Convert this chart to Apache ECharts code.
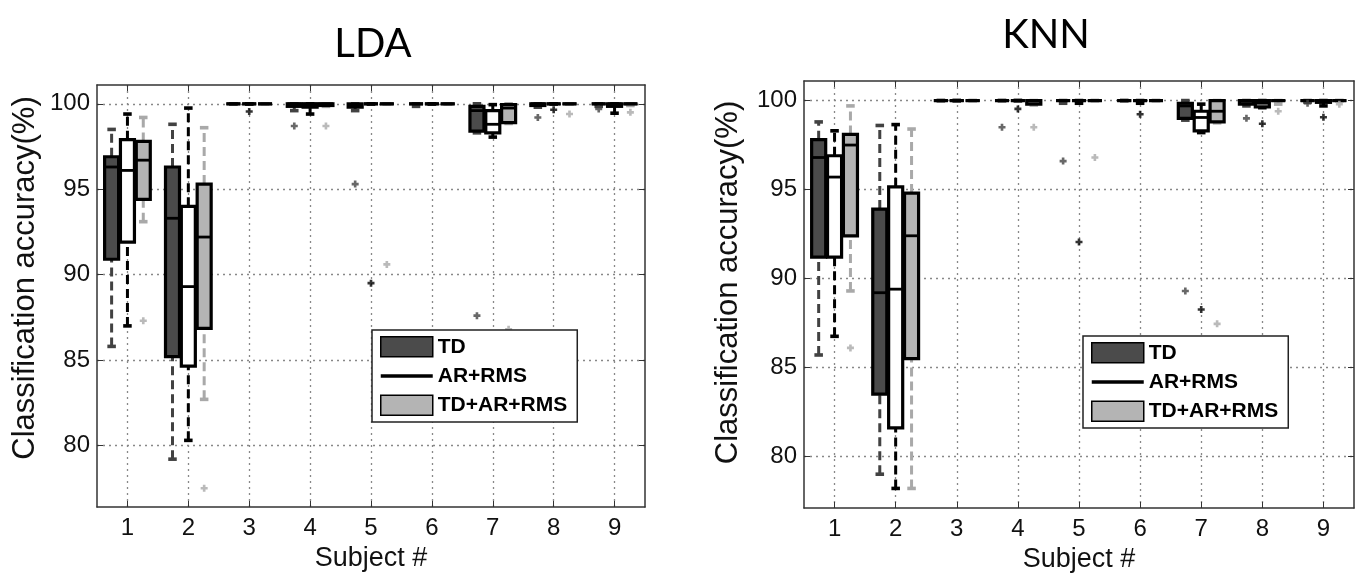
<!DOCTYPE html>
<html>
<head>
<meta charset="utf-8">
<script src="https://cdn.jsdelivr.net/npm/echarts@6/dist/echarts.min.js"></script>
<style>
  html, body { margin: 0; background: #fff; }
  #chart { width: 1361px; height: 580px; }
</style>
</head>
<body>
<div id="chart"></div>
<script>
const subjects = [1, 2, 3, 4, 5, 6, 7, 8, 9];
const yTicks = [80, 85, 90, 95, 100];
const seriesNames = ['TD', 'AR+RMS', 'TD+AR+RMS'];

// [min, q1, median, q3, max] per subject
const ldaTD = [
  [85.8, 90.9, 96.3, 96.9, 98.5], [79.2, 85.2, 93.3, 96.3, 98.8], [100, 100, 100, 100, 100],
  [99.6, 99.85, 100, 100, 100], [99.6, 99.8, 99.95, 100, 100], [99.85, 100, 100, 100, 100],
  [98.3, 98.4, 99.6, 99.85, 100], [99.8, 99.9, 100, 100, 100], [99.85, 100, 100, 100, 100]
];
const ldaAR = [
  [87.0, 91.9, 96.1, 97.9, 99.4], [80.3, 84.65, 89.3, 94.0, 99.75], [100, 100, 100, 100, 100],
  [99.4, 99.8, 100, 100, 100], [100, 100, 100, 100, 100], [100, 100, 100, 100, 100],
  [98.05, 98.3, 98.8, 99.6, 99.95], [100, 100, 100, 100, 100], [99.45, 99.85, 100, 100, 100]
];
const ldaAll = [
  [93.1, 94.4, 96.7, 97.8, 99.2], [82.7, 86.85, 92.2, 95.3, 98.6], [100, 100, 100, 100, 100],
  [99.85, 99.9, 100, 100, 100], [100, 100, 100, 100, 100], [100, 100, 100, 100, 100],
  [98.85, 98.9, 99.75, 99.95, 100], [100, 100, 100, 100, 100], [99.9, 100, 100, 100, 100]
];
// outliers [subject, value]
const ldaTDOut = [[4, 98.7], [5, 95.3], [7, 87.6], [8, 99.2], [9, 99.7]];
const ldaAROut = [[3, 99.55], [5, 89.5], [8, 99.65]];
const ldaAllOut = [[1, 87.3], [2, 77.5], [4, 98.7], [5, 90.6], [7, 86.8], [8, 99.4], [9, 99.5]];

const knnTD = [
  [85.7, 91.2, 96.8, 97.8, 98.8], [79.0, 83.5, 89.2, 93.9, 98.6], [100, 100, 100, 100, 100],
  [100, 100, 100, 100, 100], [99.85, 100, 100, 100, 100], [100, 100, 100, 100, 100],
  [98.9, 99.0, 99.7, 99.85, 100], [99.7, 99.8, 100, 100, 100], [99.9, 100, 100, 100, 100]
];
const knnAR = [
  [86.75, 91.2, 95.7, 96.9, 98.3], [78.2, 81.6, 89.4, 95.15, 98.65], [100, 100, 100, 100, 100],
  [100, 100, 100, 100, 100], [99.85, 100, 100, 100, 100], [99.85, 100, 100, 100, 100],
  [98.2, 98.3, 99.05, 99.4, 99.8], [99.6, 99.65, 99.85, 100, 100], [99.7, 99.9, 100, 100, 100]
];
const knnAll = [
  [89.3, 92.4, 97.5, 98.1, 99.7], [78.2, 85.5, 92.4, 94.8, 98.4], [100, 100, 100, 100, 100],
  [99.75, 99.8, 100, 100, 100], [100, 100, 100, 100, 100], [100, 100, 100, 100, 100],
  [98.75, 98.8, 99.4, 100, 100], [99.8, 100, 100, 100, 100], [100, 100, 100, 100, 100]
];
const knnTDOut = [[4, 98.5], [5, 96.6], [7, 89.3], [8, 99.0], [9, 99.85]];
const knnAROut = [[4, 99.53], [5, 92.05], [6, 99.23], [7, 88.26], [8, 98.7], [9, 99.06]];
const knnAllOut = [[1, 86.1], [4, 98.5], [5, 96.8], [7, 87.45], [8, 99.4], [9, 99.8]];

const fills = ['#4b4b4b', '#ffffff', '#b4b4b4'];
const whiskers = ['#424242', '#000000', '#a9a9a9'];
const offsets = [-0.26, 0, 0.26];
const font = "'Liberation Sans', Arial, sans-serif";
const plusPath = 'path://M2.5,0H5.5V2.5H8V5.5H5.5V8H2.5V5.5H0V2.5H2.5Z';

const boxRenderer = (offset, fill, whisker) => (params, api) => {
  const x = api.value(0) + offset;
  const band = api.size([1, 0])[0];
  const half = band * 0.115;
  const cap = band * 0.07;
  const yMin = api.coord([x, api.value(1)])[1];
  const yQ1 = api.coord([x, api.value(2)])[1];
  const yMed = api.coord([x, api.value(3)])[1];
  const yQ3 = api.coord([x, api.value(4)])[1];
  const yMax = api.coord([x, api.value(5)])[1];
  const cx = api.coord([x, api.value(3)])[0];
  const dash = { stroke: whisker, lineWidth: 3, lineDash: [9, 5] };
  const capStyle = { stroke: whisker, lineWidth: 3.6 };
  return {
    type: 'group',
    children: [
      { type: 'line', shape: { x1: cx, y1: yMin, x2: cx, y2: yQ1 }, style: dash },
      { type: 'line', shape: { x1: cx, y1: yQ3, x2: cx, y2: yMax }, style: dash },
      { type: 'line', shape: { x1: cx - cap, y1: yMin, x2: cx + cap, y2: yMin }, style: capStyle },
      { type: 'line', shape: { x1: cx - cap, y1: yMax, x2: cx + cap, y2: yMax }, style: capStyle },
      { type: 'rect', shape: { x: cx - half, y: yQ3, width: half * 2, height: yQ1 - yQ3 },
        style: { fill: fill, stroke: '#000', lineWidth: 3.2 } },
      { type: 'line', shape: { x1: cx - half, y1: yMed, x2: cx + half, y2: yMed },
        style: { stroke: '#000', lineWidth: 2.8 } }
    ]
  };
};

const makeSeries = (gridIdx, boxes, outs) => {
  const list = [];
  boxes.forEach((arr, k) => {
    list.push({
      type: 'custom',
      name: seriesNames[k],
      xAxisIndex: gridIdx * 2,
      yAxisIndex: gridIdx * 2,
      itemStyle: { color: fills[k] },
      renderItem: boxRenderer(offsets[k], fills[k], whiskers[k]),
      encode: { x: 0, y: [1, 2, 3, 4, 5] },
      data: subjects.map((s, i) => [s].concat(arr[i])),
      z: 3
    });
  });
  outs.forEach((arr, k) => {
    list.push({
      type: 'scatter',
      name: seriesNames[k],
      xAxisIndex: gridIdx * 2,
      yAxisIndex: gridIdx * 2,
      symbol: plusPath,
      symbolSize: 7,
      itemStyle: { color: whiskers[k] },
      data: arr.map(p => [p[0] + offsets[k], p[1]]),
      z: 4
    });
  });
  return list;
};

const axisLine = { show: true, lineStyle: { color: '#333', width: 1.5 } };
const gridLine = { show: true, lineStyle: { color: '#888', type: [2, 4], width: 1.3 } };

const makeXAxes = (gridIdx) => [
  {
    gridIndex: gridIdx, type: 'value', position: 'bottom', min: 0.5, max: 9.5,
    axisLine: axisLine,
    axisTick: { show: true, inside: true, length: 6, customValues: subjects, lineStyle: { color: '#333' } },
    axisLabel: { customValues: subjects, margin: 9, fontSize: 24, color: '#111', fontFamily: font },
    splitLine: gridLine,
    name: 'Subject #', nameLocation: 'middle', nameGap: 34,
    nameTextStyle: { fontSize: 27, color: '#111', fontFamily: font }
  },
  {
    gridIndex: gridIdx, type: 'value', position: 'top', min: 0.5, max: 9.5,
    axisLine: axisLine,
    axisTick: { show: true, inside: true, length: 6, customValues: subjects, lineStyle: { color: '#333' } },
    axisLabel: { show: false }, splitLine: { show: false }
  }
];

const makeYAxes = (gridIdx, min, max, gap, shift) => [
  {
    gridIndex: gridIdx, type: 'value', position: 'left', min: min, max: max,
    axisLine: axisLine,
    axisTick: { show: true, inside: true, length: 6, customValues: yTicks, lineStyle: { color: '#333' } },
    axisLabel: { customValues: yTicks, margin: 7, fontSize: 24, color: '#111', fontFamily: font },
    splitLine: gridLine,
    name: 'Classification accuracy(%)', nameLocation: 'middle', nameGap: gap,
    nameTextStyle: { fontSize: 31, color: '#111', fontFamily: font, padding: [0, 0, 0, shift] }
  },
  {
    gridIndex: gridIdx, type: 'value', position: 'right', min: min, max: max,
    axisLine: axisLine,
    axisTick: { show: true, inside: true, length: 6, customValues: yTicks, lineStyle: { color: '#333' } },
    axisLabel: { show: false }, splitLine: { show: false }
  }
];

const legendData = [
  { name: 'TD', icon: 'rect', itemStyle: { color: fills[0], borderColor: '#000', borderWidth: 1.5 } },
  { name: 'AR+RMS', icon: 'path://M0,0H52V3.5H0Z', itemStyle: { color: '#000', borderWidth: 0 } },
  { name: 'TD+AR+RMS', icon: 'rect', itemStyle: { color: fills[2], borderColor: '#000', borderWidth: 1.5 } }
];
const makeLegend = (left, top) => ({
  left: left, top: top, orient: 'vertical',
  data: legendData,
  itemWidth: 52, itemHeight: 20, itemGap: 8,
  padding: [6, 10, 6, 8],
  backgroundColor: '#fff', borderColor: '#222', borderWidth: 1.5, borderRadius: 0,
  textStyle: { fontSize: 21, fontWeight: 'bold', color: '#000', fontFamily: font },
  z: 10
});

const myChart = echarts.init(document.getElementById('chart'));
myChart.setOption({
  animation: false,
  backgroundColor: '#fff',
  graphic: [
    { type: 'text', x: 373, y: 44, style: { text: 'LDA', fontSize: 40, fontFamily: 'Lato, sans-serif', fill: '#000', align: 'center', verticalAlign: 'middle' } },
    { type: 'text', x: 1046, y: 35, style: { text: 'KNN', fontSize: 40, fontFamily: 'Lato, sans-serif', fill: '#000', align: 'center', verticalAlign: 'middle' } }
  ],
  legend: [makeLegend(372, 330), makeLegend(1083, 336)],
  tooltip: { trigger: 'item' },
  grid: [
    { left: 97, right: 716, top: 85, bottom: 73 },
    { left: 804, right: 7, top: 81, bottom: 72 }
  ],
  xAxis: makeXAxes(0).concat(makeXAxes(1)),
  yAxis: makeYAxes(0, 76.4, 101.1, 56, 36).concat(makeYAxes(1, 77.1, 101.1, 60, 24)),
  series: makeSeries(0, [ldaTD, ldaAR, ldaAll], [ldaTDOut, ldaAROut, ldaAllOut])
    .concat(makeSeries(1, [knnTD, knnAR, knnAll], [knnTDOut, knnAROut, knnAllOut]))
});
</script>
</body>
</html>
